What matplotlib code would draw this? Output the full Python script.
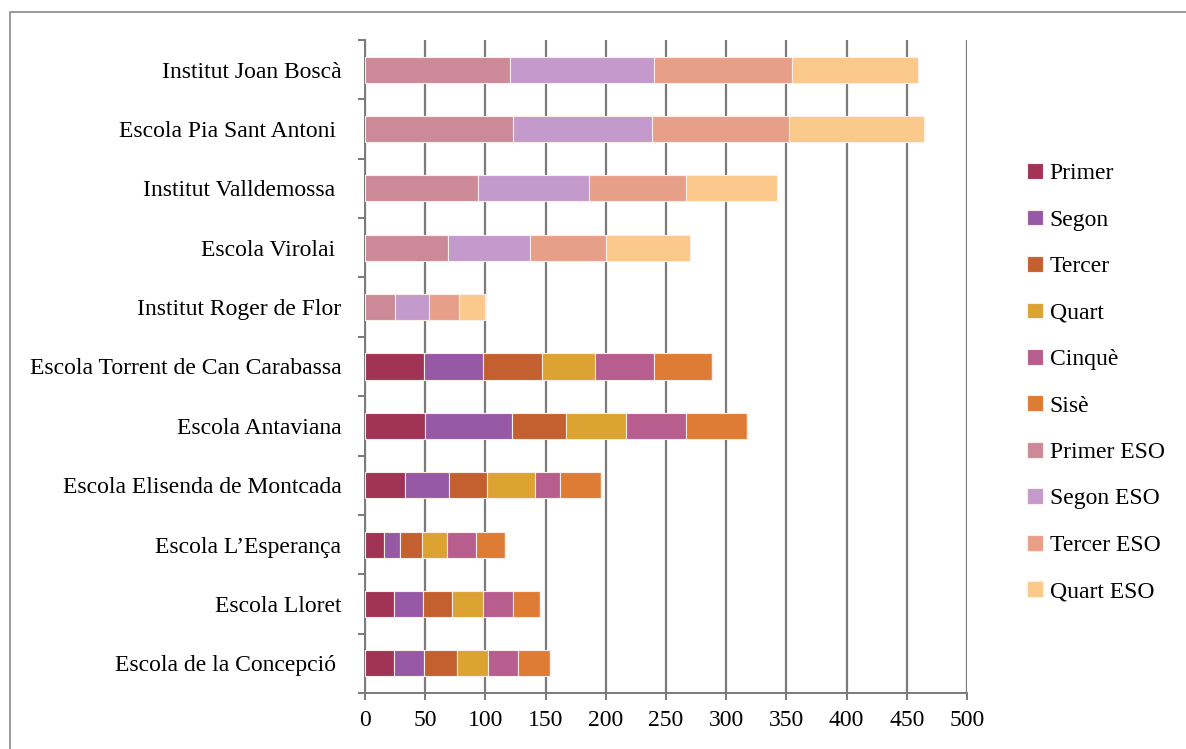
import numpy as np
from matplotlib import pyplot as plt
from matplotlib.patches import Rectangle

# Schools, listed from top to bottom as in the chart
schools = ['Institut Joan Boscà', 'Escola Pia Sant Antoni ', 'Institut Valldemossa ',
           'Escola Virolai ', 'Institut Roger de Flor', 'Escola Torrent de Can Carabassa',
           'Escola Antaviana', 'Escola Elisenda de Montcada', 'Escola L\u2019Esperança',
           'Escola Lloret', 'Escola de la Concepció ']

courses = ['Primer', 'Segon', 'Tercer', 'Quart', 'Cinquè', 'Sisè',
           'Primer ESO', 'Segon ESO', 'Tercer ESO', 'Quart ESO']

primer = [0, 0, 0, 0, 0, 49, 50, 33, 16, 24, 24]
segon = [0, 0, 0, 0, 0, 49, 72, 37, 13, 24, 25]
tercer = [0, 0, 0, 0, 0, 49, 45, 31, 18, 24, 27]
quart = [0, 0, 0, 0, 0, 44, 50, 40, 21, 26, 26]
cinque = [0, 0, 0, 0, 0, 49, 50, 21, 24, 25, 25]
sise = [0, 0, 0, 0, 0, 48, 50, 34, 24, 22, 27]
primer_eso = [120, 123, 94, 69, 25, 0, 0, 0, 0, 0, 0]
segon_eso = [120, 115, 92, 68, 28, 0, 0, 0, 0, 0, 0]
tercer_eso = [115, 114, 81, 63, 25, 0, 0, 0, 0, 0, 0]
quart_eso = [104, 112, 75, 70, 22, 0, 0, 0, 0, 0, 0]

series = [primer, segon, tercer, quart, cinque, sise,
          primer_eso, segon_eso, tercer_eso, quart_eso]
colors = ['#A03356', '#9759A5', '#C4602F', '#DCA232', '#B75E8E', '#DE7B34',
          '#CC8A99', '#C39ACB', '#E79F8A', '#FAC98B']

plt.rcParams['font.family'] = ['Liberation Serif', 'DejaVu Serif']

fig = plt.figure(figsize=(11.86, 7.49), dpi=100)
ax = fig.add_axes([0.3078, 0.0748, 0.5075, 0.8718])

# outer frame of the chart
fig.patches.append(Rectangle((10 / 1186, -0.05), 1.1, 1 - 12 / 749 + 0.05,
                             transform=fig.transFigure, fill=False,
                             edgecolor='#8a8a8a', linewidth=1.2))

y = np.arange(len(schools))
left = np.zeros(len(schools))
for name, vals, col in zip(courses, series, colors):
    ax.barh(y, vals, left=left, height=0.44, color=col, edgecolor='#fbeee8',
            linewidth=0.8, label=name, zorder=3)
    left += np.array(vals)

ax.set_ylim(len(schools) - 0.5, -0.5)
ax.set_xlim(0, 500)
ax.set_xticks(range(0, 501, 50))
ax.set_yticks(y)
ax.set_yticklabels(schools)
ax.set_yticks(np.arange(-0.5, len(schools)), minor=True)

ax.grid(axis='x', color='#7a7a7a', linewidth=1.6, zorder=0)
for side in ['top', 'right']:
    ax.spines[side].set_visible(False)
for side in ['left', 'bottom']:
    ax.spines[side].set_color('#7a7a7a')
    ax.spines[side].set_linewidth(1.4)

ax.tick_params(axis='y', which='major', length=0, pad=17, labelsize=17)
ax.tick_params(axis='y', which='minor', length=5, color='#7a7a7a', width=1.4)
ax.tick_params(axis='x', length=5, color='#7a7a7a', width=1.4, labelsize=17, pad=7)

ax.legend(loc='center left', bbox_to_anchor=(1.065, 0.475), frameon=False,
          fontsize=17, handlelength=0.65, handleheight=0.65, handletextpad=0.3,
          labelspacing=1.07)

plt.savefig('out.png', dpi=100)
